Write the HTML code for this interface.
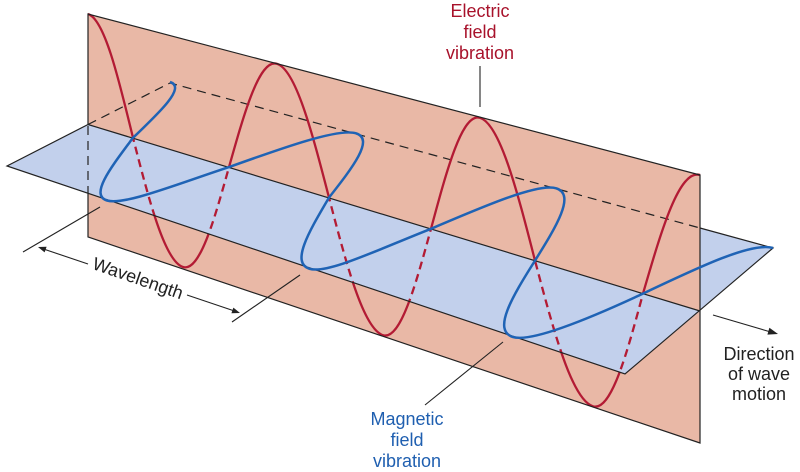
<!DOCTYPE html>
<html><head><meta charset="utf-8"><style>
html,body{margin:0;padding:0;background:#fff;}
svg{display:block;}
text{font-family:"Liberation Sans",Arial,sans-serif;font-size:18px;}
</style></head><body>
<svg width="800" height="472" viewBox="0 0 800 472" xmlns="http://www.w3.org/2000/svg">
<defs>
<clipPath id="front"><polygon points="88,124.5 700,311 625,374 7,166"/></clipPath>
</defs>
<rect width="800" height="472" fill="#fff"/>
<!-- full blue plane -->
<polygon points="7,166 170,83 773,248 625,374" fill="#c2d0ec"/>
<!-- red plane -->
<polygon points="88,14 700,175 700,443 88,237" fill="#e9b8a6"/>
<!-- hidden blue edges -->
<polyline points="88,124.5 170,83 700,228" fill="none" stroke="#222" stroke-width="1.2" stroke-dasharray="9 6"/>
<!-- red wave solid -->
<path d="M88,14 C104.3,19 118.3,76.9 133,137.8 C149.3,201.2 164.9,261.5 183,267 C199.6,272.1 214,220.9 229,167.1 C244.7,111.4 259.6,58.5 277,63.8 C295.8,69.5 312,132 329,197.6 C346.6,265 363.5,329.2 383,335.2 C400.4,340.5 415.3,286 431,228.8 C447,169.2 462.3,112.4 480,117.8 C499.9,123.9 517.1,190.6 535,260.6 C553.9,332 572,399.9 593,406.3 C611.1,411.8 626.7,354.2 643,293.6 C661.6,229.6 679.4,168.7 700,175" fill="none" stroke="#b31b34" stroke-width="2.3"/>
<!-- blue front half -->
<polygon points="88,124.5 700,311 625,374 7,166" fill="#c2d0ec"/>
<!-- red wave dashed behind blue -->
<path clip-path="url(#front)" d="M88,14 C104.3,19 118.3,76.9 133,137.8 C149.3,201.2 164.9,261.5 183,267 C199.6,272.1 214,220.9 229,167.1 C244.7,111.4 259.6,58.5 277,63.8 C295.8,69.5 312,132 329,197.6 C346.6,265 363.5,329.2 383,335.2 C400.4,340.5 415.3,286 431,228.8 C447,169.2 462.3,112.4 480,117.8 C499.9,123.9 517.1,190.6 535,260.6 C553.9,332 572,399.9 593,406.3 C611.1,411.8 626.7,354.2 643,293.6 C661.6,229.6 679.4,168.7 700,175" fill="none" stroke="#b31b34" stroke-width="2.3" stroke-dasharray="8 5"/>
<!-- plane outlines -->
<g fill="none" stroke="#222" stroke-width="1.2">
<polyline points="88,124.5 88,14 700,175 700,443 88,237 88,193"/>
<line x1="88" y1="126" x2="88" y2="193" stroke-dasharray="9 6"/>
<polyline points="88,124.5 7,166 625,374 773,248 700,228"/>
<line x1="88" y1="124.5" x2="700" y2="311"/>
</g>
<!-- blue wave -->
<path d="M170,82 C186.3,87 160.3,111.8 133,137.8 C112,166 89,195 107,200.5 C123.6,205.6 173,185.6 229,167.1 C285.1,147 338.6,128 356,133.3 C374.8,139 352.5,167.6 329,197.6 C310,230 290,262.8 309.5,268.8 C326.9,274.2 375.5,250.7 431,228.8 C486,205.3 538.5,182.9 556.2,188.3 C576.1,194.4 556.1,226.7 535,260.6 C512,297 492,330.6 513,337 C531,342.5 588.5,319 643,293.6 C699,267 752.4,241.7 773,248" fill="none" stroke="#1f63b5" stroke-width="2.5"/>
<!-- annotations -->
<g stroke="#222" stroke-width="1.1" fill="none">
<line x1="23" y1="252" x2="100" y2="207"/>
<line x1="232" y1="322" x2="300" y2="275"/>
<line x1="88" y1="264" x2="45" y2="249.5"/>
<line x1="187" y1="295" x2="233" y2="310.5"/>
<line x1="480" y1="66" x2="480" y2="107"/>
<line x1="503" y1="342" x2="425" y2="405"/>
<line x1="713" y1="315" x2="769" y2="331.5"/>
</g>
<g fill="#222">
<polygon points="38,247 46.6,246.8 44.6,252.4"/>
<polygon points="240,313 231.4,313.2 233.4,307.6"/>
<polygon points="778,334 767.4,334.6 769.4,327.8"/>
</g>
<text transform="translate(136,284) rotate(19)" text-anchor="middle" fill="#222">Wavelength</text>
<g fill="#a8122b" text-anchor="middle">
<text x="480" y="17">Electric</text>
<text x="480" y="38">field</text>
<text x="480" y="59">vibration</text>
</g>
<g fill="#1f5fb0" text-anchor="middle">
<text x="407" y="425">Magnetic</text>
<text x="407" y="446">field</text>
<text x="407" y="467">vibration</text>
</g>
<g fill="#222" text-anchor="middle">
<text x="759" y="360">Direction</text>
<text x="759" y="380">of wave</text>
<text x="759" y="400">motion</text>
</g>
</svg>
</body></html>
